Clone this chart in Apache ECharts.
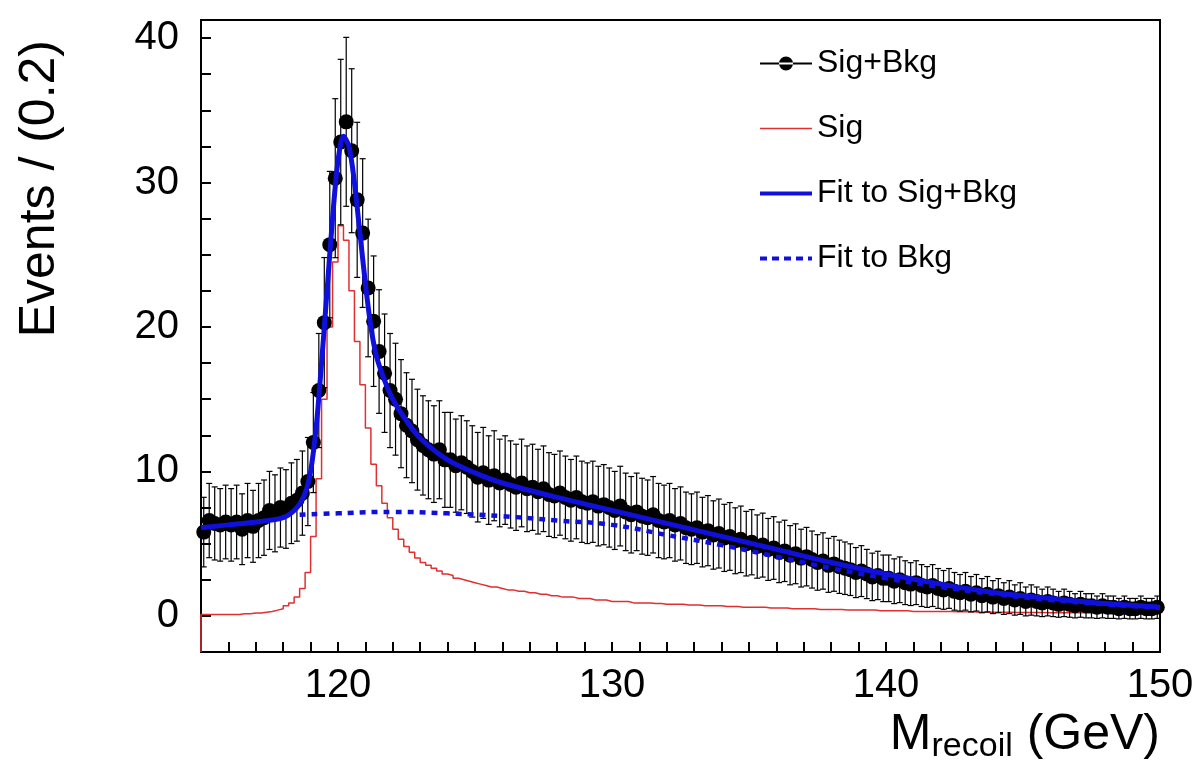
<!DOCTYPE html>
<html>
<head>
<meta charset="utf-8">
<script src="https://cdn.jsdelivr.net/npm/echarts@6/dist/echarts.min.js"></script>
<style>html,body{margin:0;background:#fff}#c{width:1202px;height:778px}</style>
</head>
<body>
<div id="c"></div>
<script>
// bins of 0.2 GeV from 115 to 150
var binLow = 115, binWidth = 0.2;
var sigBkg = [
  5.8, 6.6, 6.4, 6.3, 6.5,  6.3, 6.5, 6.0, 6.6, 6.2,  6.6, 6.8, 7.3, 7.1, 7.5,
  7.4, 7.8, 8.0, 8.5, 9.3,  12.0, 15.6, 20.3, 25.7, 30.3,  32.8, 34.2, 32.2, 28.8, 26.5,
  22.7, 20.4, 18.3, 16.8, 15.6,  15.0, 14.0, 13.2, 12.8, 12.2,  11.8, 11.5, 11.2, 11.5, 10.8,
  10.8, 10.4, 10.6, 10.3, 10.0,
  9.6, 9.9, 9.4, 9.7, 9.2,  9.4, 9.1, 8.9, 9.2, 8.8,  8.9, 8.6, 8.8, 8.4, 8.3,
  8.5, 8.2, 8.0, 8.2, 7.9,  7.8, 7.9, 7.6, 7.7, 7.5,  7.3, 7.6, 7.2, 7.0, 7.2,
  6.9, 6.8, 7.0, 6.6, 6.5,  6.6, 6.3, 6.4, 6.1, 6.0,  6.1, 5.8, 5.9, 5.6, 5.7,
  5.4, 5.5, 5.2, 5.3, 5.0,  5.1, 4.8, 4.9, 4.6, 4.7,  4.4, 4.5, 4.2, 4.3, 4.0,
  4.1, 3.9, 3.7, 3.8, 3.5,  3.6, 3.4, 3.3, 3.2, 3.0,  3.1, 2.9, 2.7, 2.8, 2.6,
  2.6, 2.4, 2.5, 2.3, 2.2,  2.3, 2.1, 2.0, 2.1, 1.9,  1.8, 1.9, 1.7, 1.6, 1.7,
  1.5, 1.6, 1.4, 1.5, 1.3,  1.4, 1.2, 1.3, 1.1, 1.2,  1.0, 1.1, 1.0, 0.9, 1.0,
  0.9, 0.8, 0.9, 0.8, 0.7,  0.8, 0.7, 0.7, 0.6, 0.7,  0.6, 0.6, 0.5, 0.6, 0.5,
  0.5, 0.6, 0.5, 0.5, 0.6
];
var sig = [
  0.1, 0.1, 0.1, 0.1, 0.1,  0.1, 0.1, 0.15, 0.15, 0.2,  0.2, 0.25, 0.3, 0.4, 0.5,
  0.7, 0.9, 1.3, 1.9, 3.0,  5.5, 9.5, 15.0, 20.0, 24.5,  27.0, 26.0, 22.5, 19.0, 16.0,
  13.0, 10.5, 9.0, 7.8, 6.8,  6.0, 5.3, 4.8, 4.4, 4.0,  3.7, 3.5, 3.3, 3.1, 2.9,
  2.8, 2.6, 2.5, 2.4, 2.3,  2.2, 2.1, 2.0, 2.0, 1.9,  1.8, 1.8, 1.7, 1.7, 1.6,
  1.6, 1.5, 1.5, 1.4, 1.4,  1.3, 1.3, 1.3, 1.2, 1.2,  1.2, 1.1, 1.1, 1.1, 1.0,
  1.0, 1.0, 1.0, 0.9, 0.9,
  0.9, 0.9, 0.85, 0.85, 0.8,  0.8, 0.8, 0.8, 0.75, 0.75,  0.75, 0.7, 0.7, 0.7, 0.7,
  0.65, 0.65, 0.65, 0.6, 0.6,  0.6, 0.6, 0.6, 0.55, 0.55,  0.55, 0.55, 0.5, 0.5, 0.5,
  0.5, 0.5, 0.45, 0.45, 0.45,  0.45, 0.45, 0.4, 0.4, 0.4,  0.4, 0.4, 0.4, 0.35, 0.35,
  0.35, 0.35, 0.35, 0.35, 0.3,  0.3, 0.3, 0.3, 0.3, 0.3,  0.3, 0.3, 0.28, 0.28, 0.28,
  0.28, 0.26, 0.26, 0.26, 0.26,  0.25, 0.25, 0.25, 0.24, 0.24,  0.24, 0.23, 0.23, 0.23, 0.22,
  0.22, 0.22, 0.22, 0.21, 0.21,  0.21, 0.2, 0.2, 0.2, 0.2,  0.2, 0.2, 0.19, 0.19, 0.19,
  0.19, 0.18, 0.18, 0.18, 0.18
];
var fitX = [115, 116, 117, 118, 118.5, 118.8, 119, 119.2, 119.4, 119.6, 119.8, 120, 120.2, 120.4, 120.6, 120.8, 121, 121.2, 121.4, 121.7, 122, 122.5, 123, 124, 125, 126, 128, 130, 132, 134, 136, 138, 140, 142, 144, 146, 148, 150];
var fitY = [6.1, 6.3, 6.5, 6.8, 7.5, 8.5, 10, 13, 17.5, 22.5, 27.5, 31.5, 33.2, 32.5, 30, 26.5, 23, 20, 18, 16.3, 15, 13.5, 12.3, 10.8, 9.9, 9.2, 8.2, 7.3, 6.4, 5.5, 4.6, 3.7, 2.9, 2.2, 1.6, 1.2, 0.85, 0.6];
var bkgX = [118.6, 120, 122, 124, 126, 128, 130, 132, 134, 136, 138, 140, 142, 144, 146, 148, 150];
var bkgY = [7.0, 7.1, 7.2, 7.1, 6.9, 6.6, 6.3, 5.6, 4.9, 4.1, 3.3, 2.6, 2.0, 1.5, 1.1, 0.8, 0.55];

var pts = sigBkg.map(function (v, i) { return [binLow + (i + 0.5) * binWidth, v, Math.sqrt(v)]; });
var sigStep = [[binLow, -2.5]].concat(sig.map(function (v, i) { return [binLow + i * binWidth, v]; }));
sigStep.push([150, sig[sig.length - 1]]);
var zip = function (xs, ys) { return xs.map(function (x, i) { return [x, ys[i]]; }); };

var font = 'Liberation Sans, Arial, sans-serif';
var icons = {
  dots: 'path://M0,9 L52,9 L52,11 L0,11Z M19,10 a7,7 0 1,0 14,0 a7,7 0 1,0 -14,0Z',
  thin: 'path://M0,9.3 L52,9.3 L52,10.7 L0,10.7Z',
  thick: 'path://M0,8 L52,8 L52,12 L0,12Z',
  dash: 'path://M0,8 L7,8 L7,12 L0,12Z M12,8 L19,8 L19,12 L12,12Z M24,8 L31,8 L31,12 L24,12Z M36,8 L43,8 L43,12 L36,12Z M48,8 L52,8 L52,12 L48,12Z'
};
var chart = echarts.init(document.getElementById('c'));
chart.setOption({
  animation: false,
  grid: { left: 201, right: 42, top: 20, bottom: 126, show: true, borderColor: '#000', borderWidth: 2,
    containLabel: false, outerBoundsMode: 'none' },
  xAxis: {
    type: 'value', min: 115, max: 150, interval: 1,
    axisLine: { onZero: false, lineStyle: { color: '#000', width: 2 } },
    axisTick: { inside: true, length: 10, lineStyle: { color: '#000', width: 2 } },
    splitLine: { show: false },
    axisLabel: { fontSize: 40, fontFamily: font, color: '#000', margin: 14,
      formatter: function (v) { return v % 10 === 0 ? v : ''; } },
    name: '{m|M}{s|recoil}{m| (GeV)}', nameLocation: 'end', nameGap: 0,
    nameTextStyle: { align: 'right', verticalAlign: 'top', padding: [54, 0, 0, 0], rich: {
      m: { fontSize: 50, fontFamily: font, color: '#000' },
      s: { fontSize: 34, fontFamily: font, color: '#000', padding: [24, 0, 0, 0] } } }
  },
  yAxis: {
    type: 'value', min: -2.5, max: 41.25, interval: 2.5,
    axisLine: { lineStyle: { color: '#000', width: 2 } },
    axisTick: { inside: true, length: 10, lineStyle: { color: '#000', width: 2 } },
    splitLine: { show: false },
    axisLabel: { fontSize: 40, fontFamily: font, color: '#000', margin: 22,
      formatter: function (v) { return v % 10 === 0 ? v : ''; } },
    name: 'Events / (0.2)', nameLocation: 'end', nameRotate: 90, nameGap: 0,
    nameTextStyle: { fontSize: 50, fontFamily: font, color: '#000', align: 'right', verticalAlign: 'bottom', padding: [0, 20, 136, 0] }
  },
  legend: {
    orient: 'vertical', left: 755, top: 40, itemGap: 28, itemWidth: 52, itemHeight: 20,
    textStyle: { fontSize: 32, fontFamily: font, color: '#000', lineHeight: 37 },
    data: [
      { name: 'Sig+Bkg', icon: icons.dots },
      { name: 'Sig', icon: icons.thin },
      { name: 'Fit to Sig+Bkg', icon: icons.thick },
      { name: 'Fit to Bkg', icon: icons.dash }
    ]
  },
  series: [
    {
      name: 'Sig', type: 'line', step: 'end', data: sigStep, symbol: 'none',
      lineStyle: { color: '#e03030', width: 1.5 }, itemStyle: { color: '#e03030' }, z: 2
    },
    {
      name: 'errors', type: 'custom', data: pts, z: 3,
      renderItem: function (params, api) {
        var x = api.value(0), y = api.value(1), e = api.value(2);
        var top = api.coord([x, y + e]), bot = api.coord([x, y - e]);
        return { type: 'group', children: [
          { type: 'line', shape: { x1: top[0], y1: top[1], x2: bot[0], y2: bot[1] }, style: { stroke: '#000', lineWidth: 1.2 } },
          { type: 'line', shape: { x1: top[0] - 3, y1: top[1], x2: top[0] + 3, y2: top[1] }, style: { stroke: '#000', lineWidth: 1.2 } },
          { type: 'line', shape: { x1: bot[0] - 3, y1: bot[1], x2: bot[0] + 3, y2: bot[1] }, style: { stroke: '#000', lineWidth: 1.2 } }
        ] };
      }
    },
    {
      name: 'Sig+Bkg', type: 'line', data: pts, symbol: 'circle', symbolSize: 15,
      lineStyle: { width: 0, color: '#000' }, itemStyle: { color: '#000' }, z: 4
    },
    {
      name: 'Fit to Bkg', type: 'line', data: zip(bkgX, bkgY), smooth: true, symbol: 'none',
      lineStyle: { color: '#1010dd', width: 4.5, type: [6, 6] }, itemStyle: { color: '#1010dd' }, z: 5
    },
    {
      name: 'Fit to Sig+Bkg', type: 'line', data: zip(fitX, fitY), smooth: 0.3, symbol: 'none',
      lineStyle: { color: '#1010dd', width: 5 }, itemStyle: { color: '#1010dd' }, z: 6
    }
  ]
});
</script>
</body>
</html>
